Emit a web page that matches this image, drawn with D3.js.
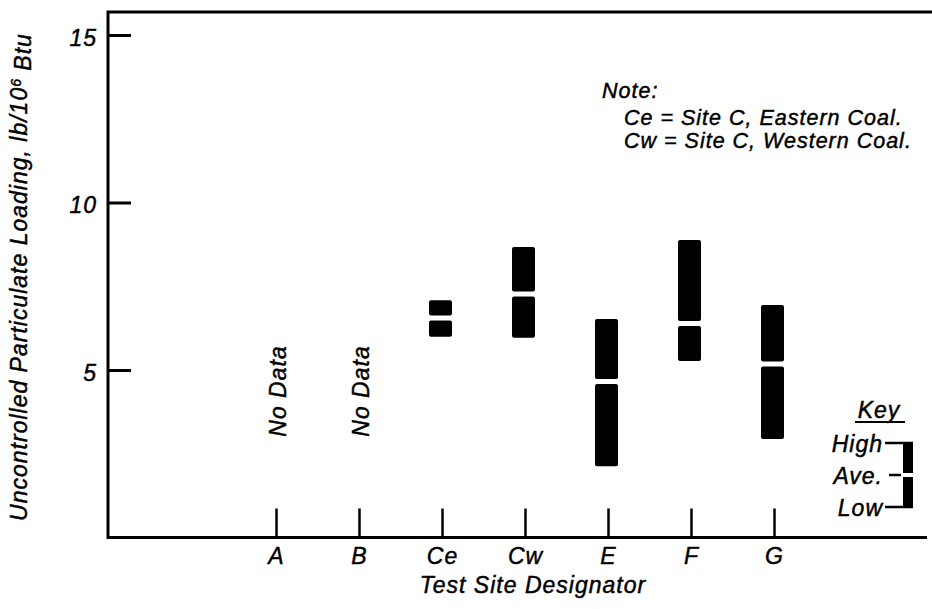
<!DOCTYPE html>
<html>
<head>
<meta charset="utf-8">
<script src="https://cdn.jsdelivr.net/npm/d3@7"></script>
<style>
  body { margin: 0; background: #fff; }
  text { font-family: "Liberation Sans", Arial, sans-serif; font-style: italic; fill: #000; stroke: #000; stroke-width: 0.45px; letter-spacing: 1px; }
</style>
</head>
<body>
<script>
// data
var sites = ["A", "B", "Ce", "Cw", "E", "F", "G"];
var noDataSites = ["A", "B"];
var barSites = ["Ce", "Cw", "E", "F", "G"];
var highValues = [7.08, 8.67, 6.52, 8.88, 6.94];
var aveValues = [6.55, 7.27, 4.66, 6.39, 5.18];
var lowValues = [5.99, 5.96, 2.13, 5.27, 2.94];
var yTicks = [5, 10, 15];
var noteLines = ["Note:", "Ce = Site C, Eastern Coal.", "Cw = Site C, Western Coal."];
var keyLabels = ["High", "Ave.", "Low"];

var width = 932, height = 609;
var frame = { left: 108, top: 12, right: 932, bottom: 537.5 };
var fs = "23px";

var svg = d3.select("body").append("svg")
    .attr("width", width)
    .attr("height", height);

var yScale = d3.scaleLinear().domain([0, 15]).range([frame.bottom, 35]);
var xScale = d3.scalePoint().domain(sites).range([276, 774]);

var bars = barSites.map(function (s, i) {
    return { site: s, high: highValues[i], ave: aveValues[i], low: lowValues[i] };
});

// frame lines (left, top, bottom)
svg.append("path")
    .attr("d", "M" + frame.right + "," + frame.top + "H" + frame.left + "V" + frame.bottom + "H927")
    .attr("fill", "none")
    .attr("stroke", "#000")
    .attr("stroke-width", 3);

var yAxis = d3.axisLeft(yScale).tickValues(yTicks).tickSize(-23).tickSizeOuter(0).tickPadding(11);
var xAxis = d3.axisBottom(xScale).tickSize(-29).tickSizeOuter(0).tickPadding(10);

var gy = svg.append("g")
    .attr("transform", "translate(" + frame.left + ",0)")
    .call(yAxis);
gy.select(".domain").remove();
gy.selectAll("line").attr("stroke-width", 3);
gy.selectAll("text")
    .attr("dy", "0.45em")
    .style("font-size", fs)
    .style("font-style", "italic")
    .style("font-family", "'Liberation Sans', Arial, sans-serif");

var gx = svg.append("g")
    .attr("transform", "translate(0," + frame.bottom + ")")
    .call(xAxis);
gx.select(".domain").remove();
gx.selectAll("line").attr("stroke-width", 2.5);
gx.selectAll("text")
    .style("font-size", fs)
    .style("font-style", "italic")
    .style("font-family", "'Liberation Sans', Arial, sans-serif");

// high-ave and ave-low blocks, split with a small gap at the average
var barW = 23, gap = 5;
var segs = [];
bars.forEach(function (d) {
    segs.push({ site: d.site, top: d.high, bot: d.ave, part: "upper" });
    segs.push({ site: d.site, top: d.ave, bot: d.low, part: "lower" });
});

svg.append("g").selectAll("rect")
    .data(segs)
    .enter().append("rect")
    .attr("x", function (d) { return xScale(d.site) - 1.5 - barW / 2; })
    .attr("y", function (d) { return yScale(d.top) + (d.part == "lower" ? gap / 2 : 0); })
    .attr("width", barW)
    .attr("height", function (d) { return yScale(d.bot) - yScale(d.top) - gap / 2; })
    .attr("rx", 2)
    .attr("fill", "#000");

// "No Data" labels
svg.append("g").selectAll("text")
    .data(noDataSites)
    .enter().append("text")
    .attr("transform", function (d) { return "translate(" + (xScale(d) + 10) + ",391) rotate(-90)"; })
    .attr("text-anchor", "middle")
    .style("font-size", fs)
    .text("No Data");

// axis titles
svg.append("text")
    .attr("x", 533)
    .attr("y", 593)
    .attr("text-anchor", "middle")
    .style("font-size", fs)
    .text("Test Site Designator");

var yt = svg.append("text")
    .attr("transform", "translate(27,277) rotate(-90)")
    .attr("text-anchor", "middle")
    .style("font-size", fs);
yt.append("tspan").text("Uncontrolled Particulate Loading, lb/10");
yt.append("tspan").attr("dy", "-0.45em").style("font-size", "14px").text("6");
yt.append("tspan").attr("dy", "0.45em").text(" Btu");

// note
svg.append("g").selectAll("text")
    .data(noteLines)
    .enter().append("text")
    .attr("x", function (d, i) { return i == 0 ? 602 : 624; })
    .attr("y", function (d, i) { return [98, 125, 148][i]; })
    .style("font-size", "21.5px")
    .text(function (d) { return d; });

// key
var keyY = d3.scalePoint().domain(keyLabels).range([443, 507]);
var key = svg.append("g");

key.append("text")
    .attr("x", 879)
    .attr("y", 418)
    .attr("text-anchor", "middle")
    .style("font-size", fs)
    .text("Key");
key.append("line")
    .attr("x1", 855).attr("x2", 905)
    .attr("y1", 422).attr("y2", 422)
    .attr("stroke", "#000").attr("stroke-width", 2);

key.selectAll(".klabel")
    .data(keyLabels)
    .enter().append("text")
    .attr("class", "klabel")
    .attr("x", 883)
    .attr("y", function (d) { return keyY(d); })
    .attr("dy", "0.38em")
    .attr("text-anchor", "end")
    .style("font-size", fs)
    .text(function (d) { return d; });

key.selectAll(".kline")
    .data(keyLabels)
    .enter().append("line")
    .attr("class", "kline")
    .attr("x1", function (d) { return d == "Ave." ? 889 : 885; })
    .attr("x2", function (d) { return d == "Ave." ? 901 : 913; })
    .attr("y1", function (d) { return keyY(d); })
    .attr("y2", function (d) { return keyY(d); })
    .attr("stroke", "#000")
    .attr("stroke-width", 2.5);

key.append("rect")
    .attr("x", 903).attr("width", 10)
    .attr("y", keyY("High")).attr("height", keyY("Ave.") - keyY("High") - 2)
    .attr("fill", "#000");
key.append("rect")
    .attr("x", 903).attr("width", 10)
    .attr("y", keyY("Ave.") + 2).attr("height", keyY("Low") - keyY("Ave.") - 2)
    .attr("fill", "#000");
</script>
</body>
</html>
